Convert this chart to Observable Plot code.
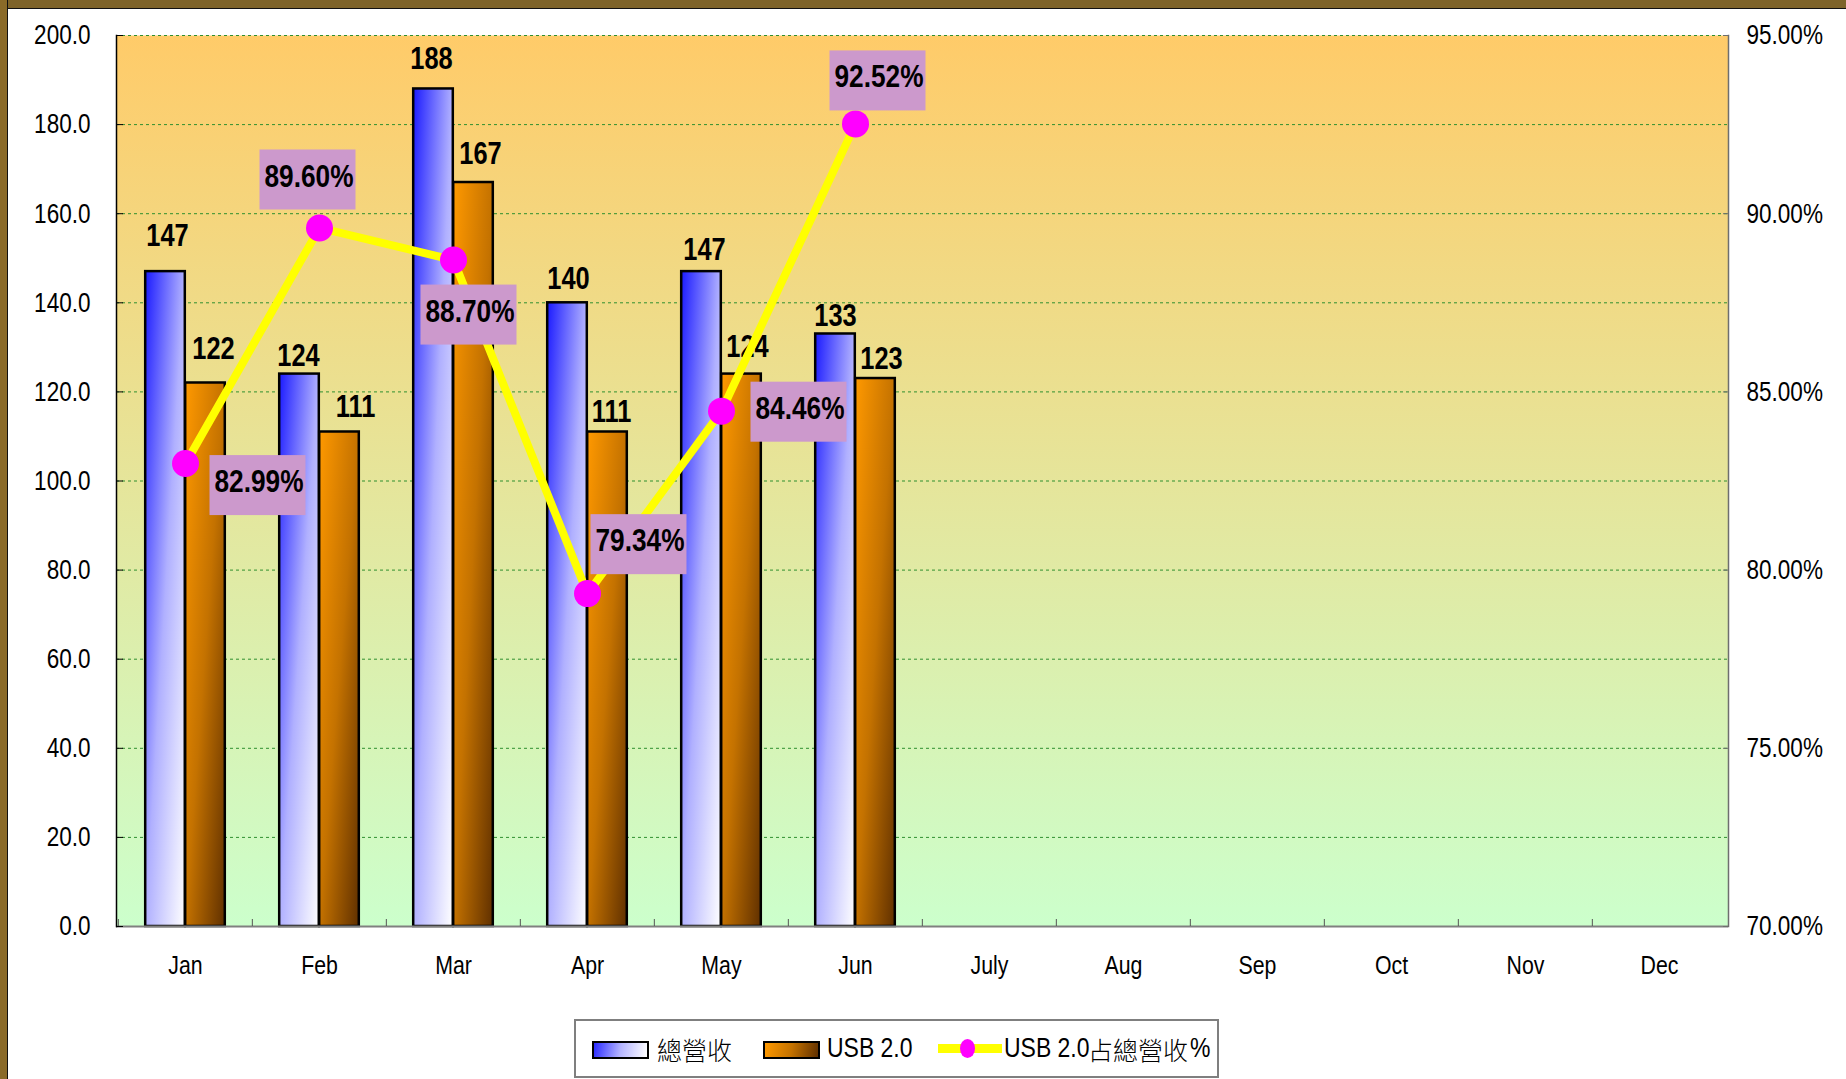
<!DOCTYPE html>
<html><head><meta charset="utf-8">
<script src="https://cdn.jsdelivr.net/npm/d3@7"></script>
<script src="https://cdn.jsdelivr.net/npm/@observablehq/plot@0.6"></script>
<style>
body{margin:0;background:#fff;}
#page{position:relative;width:1846px;height:1079px;overflow:hidden;background:#fff;font-family:"Liberation Sans",Arial,"Noto Sans CJK TC",sans-serif;}
#bt{position:absolute;left:0;top:0;width:1846px;height:8px;background:#7e6329;border-bottom:1px solid #111;}
#bl{position:absolute;left:0;top:0;width:7px;height:1079px;background:#8a6a28;border-right:1px solid #111;}
#chart{position:absolute;left:0;top:0;}
#legend{position:absolute;left:574px;top:1019px;width:641px;height:55px;border:2px solid #7f7f7f;background:#fff;}
#legend .sw{position:absolute;top:20px;width:53px;height:14px;border:2.5px solid #000;}
#legend .tx{position:absolute;top:10px;font-size:28px;line-height:34px;color:#000;white-space:nowrap;transform:scaleX(0.82);transform-origin:0 50%;}
#legend .cjk{position:absolute;top:11px;font-family:'Noto Sans CJK TC',sans-serif;font-weight:300;font-size:25px;line-height:34px;color:#000;white-space:nowrap;}
</style></head>
<body>
<div id="page">
  <div id="chart"></div>
  <div id="bt"></div>
  <div id="bl"></div>
  <div id="legend"></div>
</div>
<script>
const months = ["Jan","Feb","Mar","Apr","May","Jun","July","Aug","Sep","Oct","Nov","Dec"];
const dataMonths = ["Jan","Feb","Mar","Apr","May","Jun"];
const totalRevenue = [147,124,188,140,147,133];
const usbRevenue = [122,111,167,111,124,123];
const usbShare = [82.99,89.60,88.70,79.34,84.46,92.52];
const leftTicks = [0,20,40,60,80,100,120,140,160,180,200];
const rightTicks = [70,75,80,85,90,95];
const seriesNames = ["總營收","USB 2.0","USB 2.0占總營收%"];
// label placement (dx, dy) of each label relative to its anchor
const shareLabelOffsets = [[72,21],[-12,-49],[15,54],[51,-50],[77,0],[22,-44]];
const totalLabelOffsets = [[2,-26],[-1,-8],[-2,-20],[1,-14],[3,-12],[0,-8]];
const usbLabelOffsets = [[8,-24],[16,-15],[7,-19],[4,-10],[6,-17],[6,-10]];

const shareMin = 70, shareMax = 95, yMax = 200;
const shareToY = p => (p - shareMin) / (shareMax - shareMin) * yMax;
const yToShare = v => shareMin + v / yMax * (shareMax - shareMin);
const NARROW = 0.82;

const FONT = '"Liberation Sans",Arial,sans-serif';
const rows = dataMonths.map((m,i)=>({month:m,total:totalRevenue[i],usb:usbRevenue[i],share:usbShare[i],shareY:shareToY(usbShare[i])}));

const valueLabel = (d, i, key, off, barShift) => Plot.text([d], {
  x: "month", y: key, text: r => String(r[key]),
  dx: barShift + off[i][0], dy: off[i][1], lineAnchor: "bottom",
  fontWeight: "bold", fontSize: 31, fill: "#000"
});

const chart = Plot.plot({
  width: 1846, height: 1000,
  marginLeft: 116, marginRight: 118, marginTop: 35, marginBottom: 74,
  style: {background: "transparent", fontFamily: FONT, fontSize: "26px", color: "#000", overflow: "visible"},
  x: {domain: months, padding: 0, axis: null},
  y: {domain: [0, yMax], axis: null},
  marks: [
    Plot.frame({fill: "url(#plotBg)", stroke: null}),
    Plot.ruleY(leftTicks.filter(t => t > 0), {stroke: "#2f8f2f", strokeWidth: 1, strokeDasharray: "3,3"}),
    Plot.barY(rows, {x: "month", y: "total", fill: "url(#gBlue)", stroke: "#000", strokeWidth: 2.5, insetLeft: 47.2, insetRight: 47.2, dx: -20}),
    Plot.barY(rows, {x: "month", y: "usb", fill: "url(#gOrange)", stroke: "#000", strokeWidth: 2.5, insetLeft: 47.2, insetRight: 47.2, dx: 20}),
    ...rows.map((d, i) => valueLabel(d, i, "total", totalLabelOffsets, -20)),
    ...rows.map((d, i) => valueLabel(d, i, "usb", usbLabelOffsets, 20)),
    Plot.line(rows, {x: "month", y: "shareY", stroke: "#ffff00", strokeWidth: 8}),
    Plot.dot(rows, {x: "month", y: "shareY", r: 13.5, fill: "#ff00ff", stroke: null}),
    ...rows.map((d, i) => Plot.text([d], {x: "month", y: "shareY", text: r => r.share.toFixed(2) + "%", dx: shareLabelOffsets[i][0] + 1.5, dy: shareLabelOffsets[i][1] - 2.7, lineAnchor: "middle", fontWeight: "bold", fontSize: 32, fill: "#000", className: "share-label"})),
    Plot.ruleY([0], {stroke: "#808080", strokeWidth: 2}),
    Plot.frame({anchor: "left", stroke: "#000", strokeWidth: 1.5}),
    Plot.frame({anchor: "right", stroke: "#6e6e6e", strokeWidth: 1.5}),
    Plot.axisY({anchor: "left", ticks: leftTicks, tickSize: -7, tickPadding: 33, tickFormat: d => d.toFixed(1), stroke: "#000", fill: "#000", label: null, fontSize: 27.5}),
    Plot.axisY({anchor: "right", ticks: rightTicks.map(shareToY), tickSize: -6, tickPadding: 24, tickFormat: d => yToShare(d).toFixed(2) + "%", stroke: "#6e6e6e", fill: "#000", label: null, fontSize: 27.5}),
    Plot.axisX({ticks: months, tickSize: -7, tickFormat: () => "", dx: -67.17, stroke: "#555", label: null}),
    Plot.axisX({ticks: months, tickSize: 0, tickPadding: 29, fill: "#000", label: null, fontSize: 26})
  ]
});

const ns = "http://www.w3.org/2000/svg";
const defs = document.createElementNS(ns, "defs");
defs.innerHTML = `
<linearGradient id="plotBg" x1="0" y1="0" x2="0" y2="1">
  <stop offset="0" stop-color="#ffcb69"/><stop offset="1" stop-color="#ccffcc"/>
</linearGradient>
<linearGradient id="gBlue" x1="0" y1="0" x2="1" y2="1">
  <stop offset="0" stop-color="#1a1aff"/><stop offset="0.5" stop-color="#b0b0ff"/><stop offset="1" stop-color="#ffffff"/>
</linearGradient>
<linearGradient id="gOrange" x1="0" y1="0" x2="1" y2="1">
  <stop offset="0" stop-color="#ff9900"/><stop offset="0.5" stop-color="#c47200"/><stop offset="1" stop-color="#603000"/>
</linearGradient>`;
chart.insertBefore(defs, chart.firstChild);
document.getElementById("chart").appendChild(chart);

// condensed (Arial Narrow-like) text: horizontal scale about each text's own anchor
function condensedTransform(t) {
  const x0 = (t.x && t.x.baseVal && t.x.baseVal.numberOfItems) ? t.x.baseVal.getItem(0).value : 0;
  return (t.getAttribute("transform") || "") + ` translate(${x0},0) scale(${NARROW},1) translate(${-x0},0)`;
}

// label boxes behind the share labels
const shareTexts = chart.querySelectorAll('.share-label text, text.share-label');
shareTexts.forEach(t => {
  const bb = t.getBBox();
  const W = bb.width * NARROW + 7, H = 60;
  const wl = W / NARROW;
  const cxl = bb.x + bb.width / 2 - 1.5 / NARROW, cy = bb.y + bb.height / 2 + 4;
  const r = document.createElementNS(ns, "rect");
  r.setAttribute("x", cxl - wl / 2); r.setAttribute("y", cy - H / 2);
  r.setAttribute("width", wl); r.setAttribute("height", H);
  r.setAttribute("fill", "#cc99cc"); r.setAttribute("stroke", "none");
  r.setAttribute("transform", condensedTransform(t));
  t.parentNode.insertBefore(r, t);
});

chart.querySelectorAll("text").forEach(t => {
  t.setAttribute("transform", condensedTransform(t));
});

// legend
const legend = document.getElementById("legend");
legend.innerHTML = `
  <div class="sw" style="left:16px;background:linear-gradient(100deg,#2a2aff,#b4b4ff 50%,#ffffff)"></div>
  <div class="cjk" style="left:81px">${seriesNames[0]}</div>
  <div class="sw" style="left:187px;background:linear-gradient(100deg,#ff9900,#c47200 50%,#603000)"></div>
  <div class="tx" style="left:251px">${seriesNames[1]}</div>
  <div style="position:absolute;left:362px;top:23px;width:64px;height:9px;background:#ffff00"></div>
  <div style="position:absolute;left:384px;top:18px;width:15px;height:19px;border-radius:50%;background:#ff00ff"></div>
  <div class="tx" style="left:428px">${seriesNames[2].slice(0,7)}</div>
  <div class="cjk" style="left:512px">${seriesNames[2].slice(7,11)}</div>
  <div class="tx" style="left:614px">${seriesNames[2].slice(11)}</div>
`;
</script>
</body></html>
